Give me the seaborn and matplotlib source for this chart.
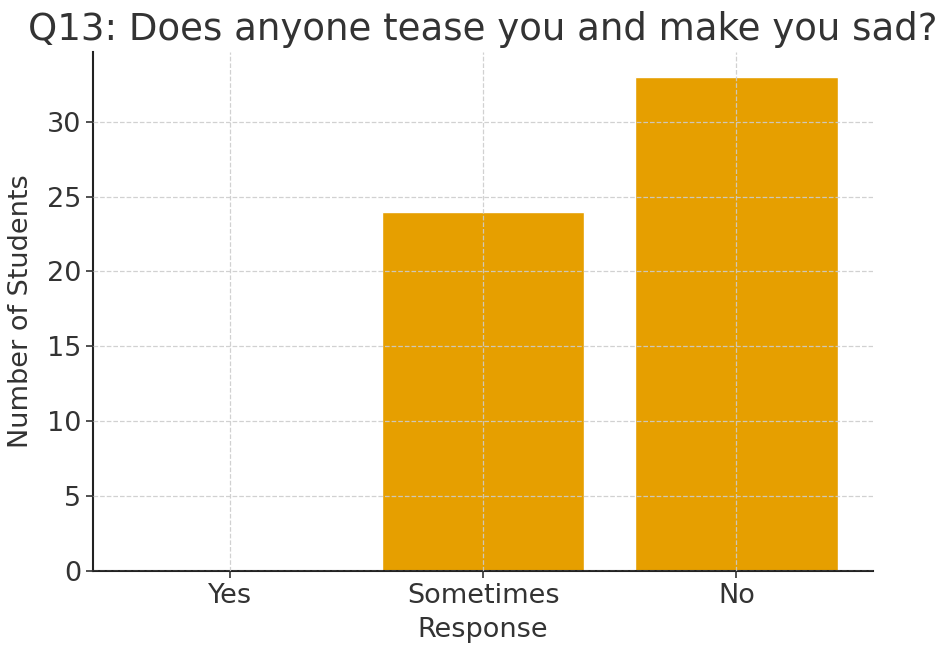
import matplotlib
matplotlib.use("Agg")
import matplotlib.pyplot as plt
import seaborn as sns
import pandas as pd

categories = ["Yes", "Sometimes", "No"]
counts = [0, 24, 33]
title = "Q13: Does anyone tease you and make you sad?"

sns.set_style("ticks")
plt.rcParams['font.family'] = ['DejaVu Sans']
text_color = "#333333"
plt.rcParams['text.color'] = text_color
plt.rcParams['axes.labelcolor'] = text_color
plt.rcParams['xtick.color'] = text_color
plt.rcParams['ytick.color'] = text_color

df = pd.DataFrame({"Response": categories, "Count": counts})

fig = plt.figure(figsize=(9.44, 6.46), dpi=100)
ax = fig.add_axes([0.0985, 0.116, 0.8265, 0.8035])
sns.barplot(data=df, x="Response", y="Count", color="#E69F00", saturation=1,
            width=0.8, ax=ax, order=categories)
ax.set_axisbelow(False)
ax.grid(True, linestyle="--", color="#cccccc", linewidth=0.9, alpha=0.9)
ax.set_ylim(0, 34.65)
ax.set_xlim(-0.54, 2.54)
ax.set_title(title, fontsize=26.7, color=text_color, pad=9)
ax.set_xlabel("Response", fontsize=19.5, labelpad=6)
ax.set_ylabel("Number of Students", fontsize=19.5, labelpad=9)
ax.tick_params(axis="both", labelsize=19.5, colors=text_color, length=5, width=1.2)
for s in ["top", "right"]:
    ax.spines[s].set_visible(False)
for s in ["left", "bottom"]:
    ax.spines[s].set_color("#222222")
    ax.spines[s].set_linewidth(1.5)

fig.savefig("out.png", dpi=100)
